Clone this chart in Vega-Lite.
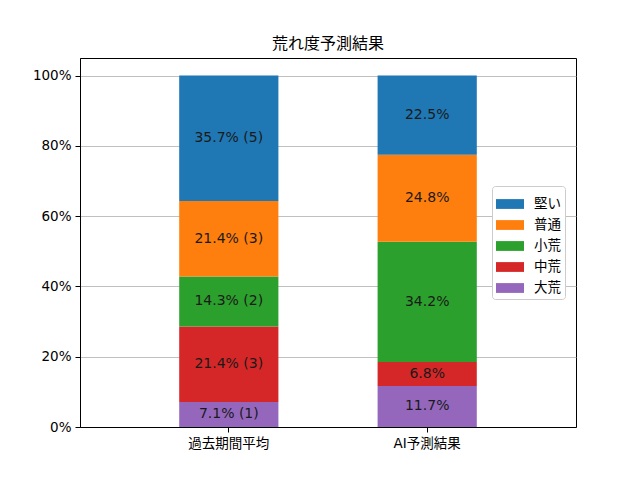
{
  "$schema": "https://vega.github.io/schema/vega-lite/v6.json",
  "width": 496,
  "height": 369,
  "autosize": {"type": "none"},
  "padding": {"left": 80, "top": 58, "right": 64, "bottom": 53},
  "title": {
    "text": "荒れ度予測結果",
    "fontSize": 16,
    "fontWeight": "normal",
    "font": "Noto Sans CJK JP",
    "color": "black",
    "offset": 6
  },
  "data": {
    "values": [
      {"period": "過去期間平均", "category": "大荒", "rank": 1, "pct": 7.14, "label": "7.1% (1)"},
      {"period": "過去期間平均", "category": "中荒", "rank": 2, "pct": 21.43, "label": "21.4% (3)"},
      {"period": "過去期間平均", "category": "小荒", "rank": 3, "pct": 14.29, "label": "14.3% (2)"},
      {"period": "過去期間平均", "category": "普通", "rank": 4, "pct": 21.43, "label": "21.4% (3)"},
      {"period": "過去期間平均", "category": "堅い", "rank": 5, "pct": 35.71, "label": "35.7% (5)"},
      {"period": "AI予測結果", "category": "大荒", "rank": 1, "pct": 11.7, "label": "11.7%"},
      {"period": "AI予測結果", "category": "中荒", "rank": 2, "pct": 6.8, "label": "6.8%"},
      {"period": "AI予測結果", "category": "小荒", "rank": 3, "pct": 34.2, "label": "34.2%"},
      {"period": "AI予測結果", "category": "普通", "rank": 4, "pct": 24.8, "label": "24.8%"},
      {"period": "AI予測結果", "category": "堅い", "rank": 5, "pct": 22.5, "label": "22.5%"}
    ]
  },
  "layer": [
    {
      "mark": {"type": "bar"},
      "encoding": {
        "x": {
          "field": "period",
          "type": "nominal",
          "sort": ["過去期間平均", "AI予測結果"],
          "scale": {"paddingInner": 0.5, "paddingOuter": 0.5},
          "axis": {"title": null, "labelAngle": 0}
        },
        "y": {
          "field": "pct",
          "type": "quantitative",
          "stack": "zero",
          "scale": {"domain": [0, 105], "nice": false},
          "axis": {
            "title": null,
            "values": [0, 20, 40, 60, 80, 100],
            "labelExpr": "datum.value + '%'",
            "grid": true
          }
        },
        "color": {
          "field": "category",
          "type": "nominal",
          "sort": ["堅い", "普通", "小荒", "中荒", "大荒"],
          "scale": {
            "domain": ["堅い", "普通", "小荒", "中荒", "大荒"],
            "range": ["#1f77b4", "#ff7f0e", "#2ca02c", "#d62728", "#9467bd"]
          },
          "legend": {
            "title": null,
            "orient": "none",
            "legendX": 412,
            "legendY": 128,
            "strokeColor": "#cccccc",
            "fillColor": "white",
            "cornerRadius": 3,
            "padding": 4,
            "symbolType": "M-1,-0.35L1,-0.35L1,0.35L-1,0.35Z",
            "symbolSize": 784,
            "symbolStrokeWidth": 0,
            "symbolOpacity": 1,
            "labelFontSize": 13.5,
            "labelFont": "Noto Sans CJK JP",
            "labelColor": "black",
            "labelOffset": 10,
            "rowPadding": -1.5
          }
        },
        "order": {"field": "rank", "type": "quantitative"}
      }
    },
    {
      "transform": [
        {"stack": "pct", "groupby": ["period"], "sort": [{"field": "rank", "order": "ascending"}], "as": ["y0", "y1"]},
        {"fold": ["y0", "y1"], "as": ["edge", "ypos"]},
        {"aggregate": [{"op": "mean", "field": "ypos", "as": "mid"}], "groupby": ["period", "category", "label"]}
      ],
      "mark": {"type": "text", "fontSize": 14, "font": "DejaVu Sans", "color": "#1a1a1a", "baseline": "middle"},
      "encoding": {
        "x": {"field": "period", "type": "nominal", "sort": ["過去期間平均", "AI予測結果"]},
        "y": {"field": "mid", "type": "quantitative"},
        "text": {"field": "label"}
      }
    }
  ],
  "config": {
    "font": "Noto Sans CJK JP",
    "view": {"stroke": "black", "strokeWidth": 1},
    "axis": {
      "labelFont": "DejaVu Sans, Noto Sans CJK JP",
      "labelFontSize": 13.5,
      "labelColor": "black",
      "domainColor": "black",
      "tickColor": "black",
      "tickSize": 5,
      "labelPadding": 4,
      "gridColor": "#b0b0b0",
      "gridWidth": 0.8
    },
    "axisX": {"grid": false}
  }
}
